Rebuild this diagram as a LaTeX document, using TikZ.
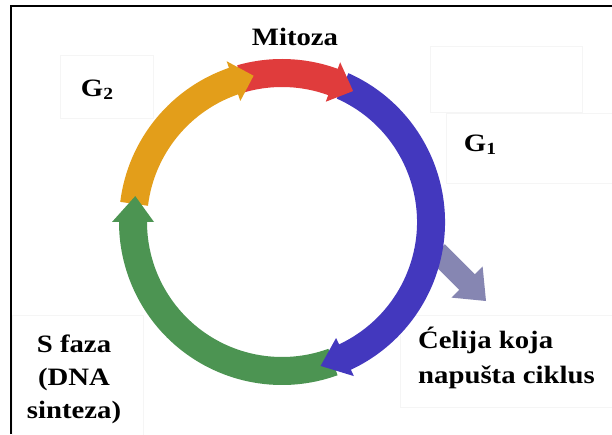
\documentclass[tikz,border=0pt]{standalone}
\usepackage{fontspec}
\setmainfont{Liberation Serif}[FakeStretch=1.15]
\begin{document}
\begin{tikzpicture}[x=1pt,y=1pt,
  lbl/.style={inner sep=0pt, font=\fontsize{25}{34}\selectfont\bfseries},
  shaft/.style={line width=28pt},
  faint/.style={draw=black!4, line width=0.8pt}]
\definecolor{cred}{RGB}{224,60,60}
\definecolor{cblue}{RGB}{67,56,190}
\definecolor{cgreen}{RGB}{76,148,82}
\definecolor{corange}{RGB}{227,158,26}
\definecolor{cgrey}{RGB}{134,134,178}
\useasboundingbox (0,0) rectangle (612,434);
\fill[white] (0,0) rectangle (612,434);
% frame
\draw[line width=2pt] (11,0) -- (11,428) -- (612,428);
% faint boxes
\draw[faint] (400,27) rectangle (620,119);
\draw[faint] (12,-5) rectangle (143,119);
\draw[faint] (446,251) rectangle (620,321);
\draw[faint] (430,322) rectangle (582,388);
\draw[faint] (60,316) rectangle (153,379);
% exit arrow
\fill[cgrey] (444.8,189.8) -- (429.2,174.2) -- (459.2,144.2) -- (451.4,136.4)
  -- (486,133) -- (482.6,167.6) -- (474.8,159.8) -- cycle;
\begin{scope}[shift={(282,212)}]
  \draw[shaft,cred]    (106:149pt) arc[start angle=106, end angle=69, radius=149pt];
  \draw[shaft,cblue]   (66:149pt)  arc[start angle=66, end angle=-66, radius=149pt];
  \draw[shaft,cgreen]  (-70:149pt) arc[start angle=-70, end angle=-181, radius=149pt];
  \draw[shaft,corange] (173:149pt) arc[start angle=173, end angle=108, radius=149pt];
  \fill[cred]    (70:128pt)   -- (61.5:149pt) -- (70:170pt)   -- cycle;
  \fill[cblue]   (-65:128pt)  -- (-75:149pt)  -- (-65:170pt)  -- cycle;
  \fill[cgreen]  (-180:128pt) -- (-190:149pt) -- (-180:170pt) -- cycle;
  \fill[corange] (109:128pt)  -- (101:149pt)  -- (109:170pt)  -- cycle;
\end{scope}
% labels
\node[lbl, anchor=base] (mit) at (295,388) {Mitoza};
\node[lbl, anchor=base] (g2) at (97,337) {G\raisebox{-0.25ex}{\fontsize{17}{17}\selectfont 2}};
\node[lbl, anchor=base] (g1) at (480,282) {G\raisebox{-0.25ex}{\fontsize{17}{17}\selectfont 1}};
\node[lbl, anchor=base, align=center, font=\fontsize{25}{33}\selectfont\bfseries] (sf) at (74,16) {S faza\\(DNA\\sinteza)};
\node[lbl, anchor=base west, align=left, font=\fontsize{25}{35}\selectfont\bfseries] (cel) at (418,51) {Ćelija koja\\napušta ciklus};
\end{tikzpicture}
\end{document}
